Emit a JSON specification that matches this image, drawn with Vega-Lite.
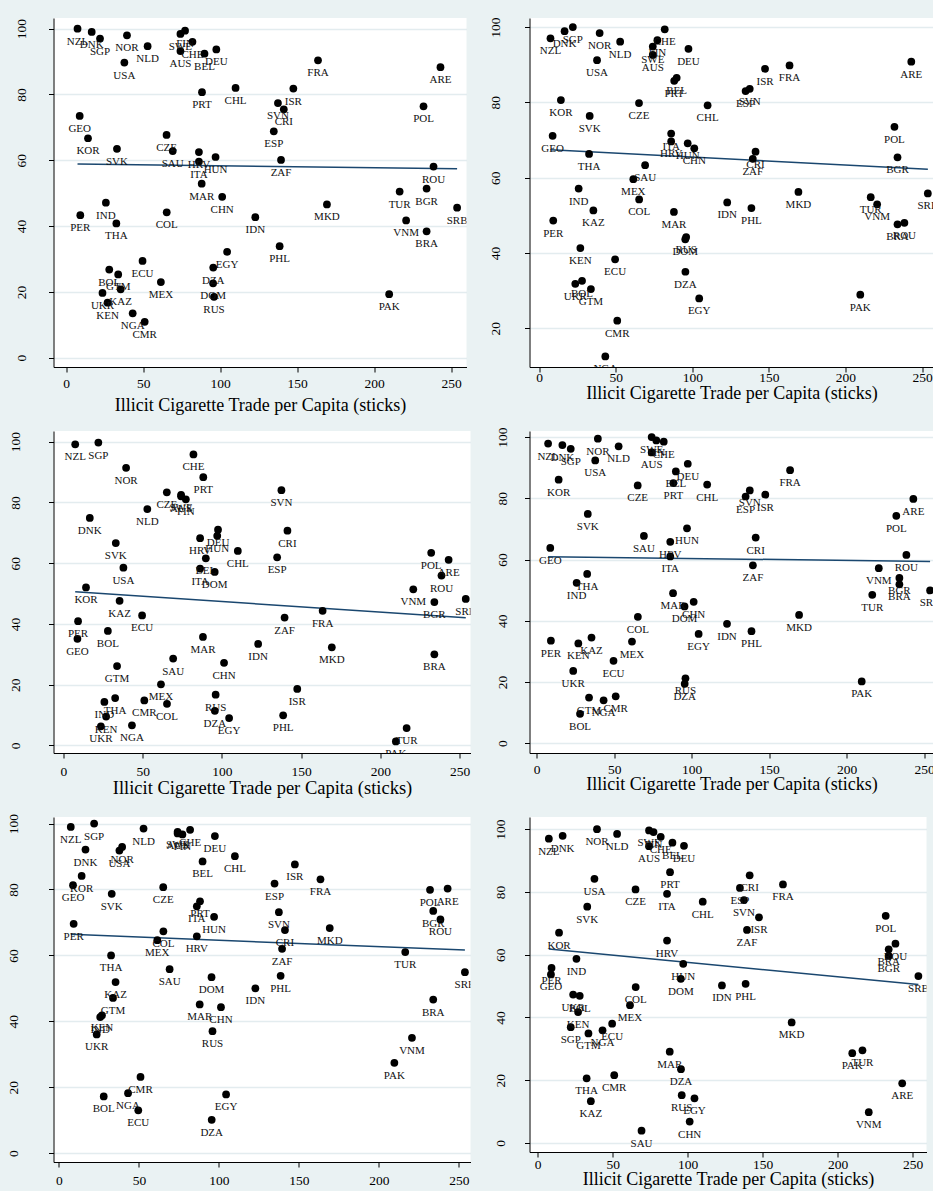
{
"$schema": "https://vega.github.io/schema/vega-lite/v6.json",
"background": "#EAF2F3",
"padding": {"left": 6.5, "top": 16, "right": 0, "bottom": 0},
"config": {
  "view": {"stroke": null, "fill": "white"},
  "font": "Liberation Serif",
  "axis": {"labelFont": "Liberation Serif", "titleFont": "Liberation Serif", "labelColor": "#000", "titleColor": "#000", "domainColor": "#000", "tickColor": "#000", "titleFontWeight": "normal", "labelFontSize": 13.5, "titleFontSize": 18, "tickSize": 5, "domainWidth": 1, "tickWidth": 1},
  "axisX": {"grid": false, "labelFlush": false, "labelOverlap": false},
  "axisY": {"grid": true, "gridColor": "#E3ECEF", "gridWidth": 1.5, "labelAngle": -90, "labelAlign": "center", "labelBaseline": "bottom", "labelFlush": false, "labelOverlap": false}
},
"datasets": {
"fit": [{"p":1,"x":7.4,"y":58.9},{"p":1,"x":253.8,"y":57.4},{"p":2,"x":7.4,"y":67.4},{"p":2,"x":253.8,"y":62.2},{"p":3,"x":7.4,"y":50.6},{"p":3,"x":253.8,"y":42.0},{"p":4,"x":7.4,"y":60.9},{"p":4,"x":253.8,"y":59.4},{"p":5,"x":7.4,"y":66.4},{"p":5,"x":253.8,"y":61.6},{"p":6,"x":7.4,"y":61.8},{"p":6,"x":253.8,"y":50.5}],
"pts": [
{"p":1,"c":"NZL","x":7.4,"y":100},{"p":1,"c":"DNK","x":16.6,"y":99},{"p":1,"c":"SGP","x":22,"y":97},{"p":1,"c":"NOR","x":39.5,"y":98},{"p":1,"c":"NLD","x":52.9,"y":94.7},{"p":1,"c":"USA","x":37.8,"y":89.7},{"p":1,"c":"SWE","x":74.2,"y":98.4},{"p":1,"c":"FIN","x":77.2,"y":99.4},{"p":1,"c":"CHE","x":82,"y":96},{"p":1,"c":"AUS","x":74.2,"y":93.2},{"p":1,"c":"BEL","x":89.8,"y":92.4},{"p":1,"c":"DEU","x":97.5,"y":93.7},{"p":1,"c":"PRT","x":88.2,"y":80.7},{"p":1,"c":"CHL","x":110,"y":82},{"p":1,"c":"GEO","x":8.8,"y":73.5},{"p":1,"c":"KOR","x":14.2,"y":66.7},{"p":1,"c":"CZE","x":65.2,"y":67.7},{"p":1,"c":"SVK","x":33,"y":63.5},{"p":1,"c":"SAU","x":69.2,"y":62.8},{"p":1,"c":"HRV","x":86.2,"y":62.5},{"p":1,"c":"ITA","x":86.2,"y":59.6},{"p":1,"c":"HUN","x":97,"y":61},{"p":1,"c":"MAR","x":88,"y":52.9},{"p":1,"c":"CHN","x":101.3,"y":48.9},{"p":1,"c":"IND","x":25.8,"y":47.1},{"p":1,"c":"PER","x":9.2,"y":43.3},{"p":1,"c":"THA","x":32.6,"y":40.8},{"p":1,"c":"COL","x":65.3,"y":44.2},{"p":1,"c":"EGY","x":104.5,"y":32.2},{"p":1,"c":"ECU","x":49.6,"y":29.4},{"p":1,"c":"DZA","x":95.5,"y":27.4},{"p":1,"c":"BOL","x":28,"y":26.8},{"p":1,"c":"GTM","x":33.8,"y":25.3},{"p":1,"c":"KAZ","x":35.4,"y":20.8},{"p":1,"c":"UKR","x":23.6,"y":19.7},{"p":1,"c":"KEN","x":26.9,"y":16.7},{"p":1,"c":"MEX","x":61.5,"y":23},{"p":1,"c":"DOM","x":95.4,"y":22.6},{"p":1,"c":"RUS","x":96,"y":18.5},{"p":1,"c":"NGA","x":43.2,"y":13.5},{"p":1,"c":"CMR","x":51,"y":10.9},{"p":1,"c":"FRA","x":163.5,"y":90.4},{"p":1,"c":"ARE","x":243,"y":88.3},{"p":1,"c":"ISR","x":147.5,"y":81.8},{"p":1,"c":"SVN","x":137.5,"y":77.4},{"p":1,"c":"CRI","x":141.3,"y":75.5},{"p":1,"c":"POL","x":232,"y":76.4},{"p":1,"c":"ESP","x":134.8,"y":68.8},{"p":1,"c":"ZAF","x":139.5,"y":60.1},{"p":1,"c":"ROU","x":238.5,"y":58.1},{"p":1,"c":"TUR","x":216.5,"y":50.5},{"p":1,"c":"BGR","x":234,"y":51.4},{"p":1,"c":"MKD","x":169.3,"y":46.6},{"p":1,"c":"SRB","x":253.8,"y":45.6},{"p":1,"c":"IDN","x":122.8,"y":42.7},{"p":1,"c":"VNM","x":220.7,"y":41.7},{"p":1,"c":"BRA","x":234,"y":38.4},{"p":1,"c":"PHL","x":138.6,"y":33.9},{"p":1,"c":"PAK","x":209.7,"y":19.3},
{"p":2,"c":"NZL","x":7.4,"y":97},{"p":2,"c":"DNK","x":16.6,"y":98.9},{"p":2,"c":"SGP","x":22,"y":100},{"p":2,"c":"NOR","x":39.5,"y":98.4},{"p":2,"c":"NLD","x":52.9,"y":96.1},{"p":2,"c":"USA","x":37.8,"y":91.2},{"p":2,"c":"SWE","x":74.2,"y":94.8},{"p":2,"c":"FIN","x":77.2,"y":96.5},{"p":2,"c":"CHE","x":82,"y":99.4},{"p":2,"c":"AUS","x":74.2,"y":92.6},{"p":2,"c":"BEL","x":89.8,"y":86.5},{"p":2,"c":"DEU","x":97.5,"y":94.2},{"p":2,"c":"PRT","x":88.2,"y":85.7},{"p":2,"c":"CHL","x":110,"y":79.2},{"p":2,"c":"GEO","x":8.8,"y":71.1},{"p":2,"c":"KOR","x":14.2,"y":80.6},{"p":2,"c":"CZE","x":65.2,"y":79.8},{"p":2,"c":"SVK","x":33,"y":76.4},{"p":2,"c":"SAU","x":69.2,"y":63.3},{"p":2,"c":"HRV","x":86.2,"y":69.6},{"p":2,"c":"ITA","x":86.2,"y":71.7},{"p":2,"c":"HUN","x":97,"y":69.1},{"p":2,"c":"MAR","x":88,"y":50.9},{"p":2,"c":"CHN","x":101.3,"y":67.8},{"p":2,"c":"IND","x":25.8,"y":57.1},{"p":2,"c":"PER","x":9.2,"y":48.6},{"p":2,"c":"THA","x":32.6,"y":66.3},{"p":2,"c":"COL","x":65.3,"y":54.2},{"p":2,"c":"EGY","x":104.5,"y":27.9},{"p":2,"c":"ECU","x":49.6,"y":38.3},{"p":2,"c":"DZA","x":95.5,"y":35},{"p":2,"c":"BOL","x":28,"y":32.6},{"p":2,"c":"GTM","x":33.8,"y":30.4},{"p":2,"c":"KAZ","x":35.4,"y":51.3},{"p":2,"c":"UKR","x":23.6,"y":31.8},{"p":2,"c":"KEN","x":26.9,"y":41.3},{"p":2,"c":"MEX","x":61.5,"y":59.6},{"p":2,"c":"DOM","x":95.4,"y":43.6},{"p":2,"c":"RUS","x":96,"y":44.2},{"p":2,"c":"NGA","x":43.2,"y":12.5},{"p":2,"c":"CMR","x":51,"y":22},{"p":2,"c":"FRA","x":163.5,"y":89.8},{"p":2,"c":"ARE","x":243,"y":90.8},{"p":2,"c":"ISR","x":147.5,"y":88.9},{"p":2,"c":"SVN","x":137.5,"y":83.6},{"p":2,"c":"CRI","x":141.3,"y":66.9},{"p":2,"c":"POL","x":232,"y":73.5},{"p":2,"c":"ESP","x":134.8,"y":83},{"p":2,"c":"ZAF","x":139.5,"y":65},{"p":2,"c":"ROU","x":238.5,"y":48},{"p":2,"c":"TUR","x":216.5,"y":54.8},{"p":2,"c":"BGR","x":234,"y":65.4},{"p":2,"c":"MKD","x":169.3,"y":56.2},{"p":2,"c":"SRB","x":253.8,"y":55.8},{"p":2,"c":"IDN","x":122.8,"y":53.4},{"p":2,"c":"VNM","x":220.7,"y":52.9},{"p":2,"c":"BRA","x":234,"y":47.6},{"p":2,"c":"PHL","x":138.6,"y":51.9},{"p":2,"c":"PAK","x":209.7,"y":28.9},
{"p":3,"c":"NZL","x":7.4,"y":99.1},{"p":3,"c":"DNK","x":16.6,"y":74.9},{"p":3,"c":"SGP","x":22,"y":99.7},{"p":3,"c":"NOR","x":39.5,"y":91.4},{"p":3,"c":"NLD","x":52.9,"y":77.8},{"p":3,"c":"USA","x":37.8,"y":58.5},{"p":3,"c":"SWE","x":74.2,"y":82.5},{"p":3,"c":"FIN","x":77.2,"y":81},{"p":3,"c":"CHE","x":82,"y":95.8},{"p":3,"c":"AUS","x":74.2,"y":82},{"p":3,"c":"BEL","x":89.8,"y":61.6},{"p":3,"c":"DEU","x":97.5,"y":71},{"p":3,"c":"PRT","x":88.2,"y":88.3},{"p":3,"c":"CHL","x":110,"y":64},{"p":3,"c":"GEO","x":8.8,"y":35.1},{"p":3,"c":"KOR","x":14.2,"y":52},{"p":3,"c":"CZE","x":65.2,"y":83.3},{"p":3,"c":"SVK","x":33,"y":66.6},{"p":3,"c":"SAU","x":69.2,"y":28.6},{"p":3,"c":"HRV","x":86.2,"y":68.2},{"p":3,"c":"ITA","x":86.2,"y":58.2},{"p":3,"c":"HUN","x":97,"y":69},{"p":3,"c":"MAR","x":88,"y":35.7},{"p":3,"c":"CHN","x":101.3,"y":27.2},{"p":3,"c":"IND","x":25.8,"y":14.3},{"p":3,"c":"PER","x":9.2,"y":40.9},{"p":3,"c":"THA","x":32.6,"y":15.6},{"p":3,"c":"COL","x":65.3,"y":13.7},{"p":3,"c":"EGY","x":104.5,"y":9},{"p":3,"c":"ECU","x":49.6,"y":42.8},{"p":3,"c":"DZA","x":95.5,"y":11.4},{"p":3,"c":"BOL","x":28,"y":37.7},{"p":3,"c":"GTM","x":33.8,"y":26.1},{"p":3,"c":"KAZ","x":35.4,"y":47.6},{"p":3,"c":"UKR","x":23.6,"y":6.3},{"p":3,"c":"KEN","x":26.9,"y":9.5},{"p":3,"c":"MEX","x":61.5,"y":20.1},{"p":3,"c":"DOM","x":95.4,"y":57.1},{"p":3,"c":"RUS","x":96,"y":16.7},{"p":3,"c":"NGA","x":43.2,"y":6.6},{"p":3,"c":"CMR","x":51,"y":14.8},{"p":3,"c":"FRA","x":163.5,"y":44.3},{"p":3,"c":"ARE","x":243,"y":61.1},{"p":3,"c":"ISR","x":147.5,"y":18.6},{"p":3,"c":"SVN","x":137.5,"y":84},{"p":3,"c":"CRI","x":141.3,"y":70.7},{"p":3,"c":"POL","x":232,"y":63.4},{"p":3,"c":"ESP","x":134.8,"y":61.9},{"p":3,"c":"ZAF","x":139.5,"y":42.1},{"p":3,"c":"ROU","x":238.5,"y":55.9},{"p":3,"c":"TUR","x":216.5,"y":5.7},{"p":3,"c":"BGR","x":234,"y":47.2},{"p":3,"c":"MKD","x":169.3,"y":32.3},{"p":3,"c":"SRB","x":253.8,"y":48.2},{"p":3,"c":"IDN","x":122.8,"y":33.4},{"p":3,"c":"VNM","x":220.7,"y":51.4},{"p":3,"c":"BRA","x":234,"y":30},{"p":3,"c":"PHL","x":138.6,"y":9.9},{"p":3,"c":"PAK","x":209.7,"y":1.3},
{"p":4,"c":"NZL","x":7.4,"y":97.9},{"p":4,"c":"DNK","x":16.6,"y":97.4},{"p":4,"c":"SGP","x":22,"y":96.2},{"p":4,"c":"NOR","x":39.5,"y":99.5},{"p":4,"c":"NLD","x":52.9,"y":97},{"p":4,"c":"USA","x":37.8,"y":92.4},{"p":4,"c":"SWE","x":74.2,"y":100},{"p":4,"c":"FIN","x":77.2,"y":98.9},{"p":4,"c":"CHE","x":82,"y":98.5},{"p":4,"c":"AUS","x":74.2,"y":95},{"p":4,"c":"BEL","x":89.8,"y":88.8},{"p":4,"c":"DEU","x":97.5,"y":91.3},{"p":4,"c":"PRT","x":88.2,"y":85},{"p":4,"c":"CHL","x":110,"y":84.5},{"p":4,"c":"GEO","x":8.8,"y":63.8},{"p":4,"c":"KOR","x":14.2,"y":86.1},{"p":4,"c":"CZE","x":65.2,"y":84.2},{"p":4,"c":"SVK","x":33,"y":74.9},{"p":4,"c":"SAU","x":69.2,"y":67.7},{"p":4,"c":"HRV","x":86.2,"y":65.8},{"p":4,"c":"ITA","x":86.2,"y":61},{"p":4,"c":"HUN","x":97,"y":70.2},{"p":4,"c":"MAR","x":88,"y":49},{"p":4,"c":"CHN","x":101.3,"y":46.2},{"p":4,"c":"IND","x":25.8,"y":52.4},{"p":4,"c":"PER","x":9.2,"y":33.5},{"p":4,"c":"THA","x":32.6,"y":55.3},{"p":4,"c":"COL","x":65.3,"y":41.3},{"p":4,"c":"EGY","x":104.5,"y":35.7},{"p":4,"c":"ECU","x":49.6,"y":26.9},{"p":4,"c":"DZA","x":95.5,"y":19.4},{"p":4,"c":"BOL","x":28,"y":9.6},{"p":4,"c":"GTM","x":33.8,"y":14.9},{"p":4,"c":"KAZ","x":35.4,"y":34.5},{"p":4,"c":"UKR","x":23.6,"y":23.6},{"p":4,"c":"KEN","x":26.9,"y":32.6},{"p":4,"c":"MEX","x":61.5,"y":33.2},{"p":4,"c":"DOM","x":95.4,"y":44.7},{"p":4,"c":"RUS","x":96,"y":21.2},{"p":4,"c":"NGA","x":43.2,"y":14},{"p":4,"c":"CMR","x":51,"y":15.3},{"p":4,"c":"FRA","x":163.5,"y":89.2},{"p":4,"c":"ARE","x":243,"y":79.8},{"p":4,"c":"ISR","x":147.5,"y":81.2},{"p":4,"c":"SVN","x":137.5,"y":82.6},{"p":4,"c":"CRI","x":141.3,"y":67.2},{"p":4,"c":"POL","x":232,"y":74.3},{"p":4,"c":"ESP","x":134.8,"y":80.6},{"p":4,"c":"ZAF","x":139.5,"y":58.1},{"p":4,"c":"ROU","x":238.5,"y":61.5},{"p":4,"c":"TUR","x":216.5,"y":48.5},{"p":4,"c":"BGR","x":234,"y":54},{"p":4,"c":"MKD","x":169.3,"y":41.9},{"p":4,"c":"SRB","x":253.8,"y":49.9},{"p":4,"c":"IDN","x":122.8,"y":39},{"p":4,"c":"VNM","x":220.7,"y":57.2},{"p":4,"c":"BRA","x":234,"y":51.9},{"p":4,"c":"PHL","x":138.6,"y":36.6},{"p":4,"c":"PAK","x":209.7,"y":20.2},
{"p":5,"c":"NZL","x":7.4,"y":99},{"p":5,"c":"DNK","x":16.6,"y":92.1},{"p":5,"c":"SGP","x":22,"y":100},{"p":5,"c":"NOR","x":39.5,"y":92.9},{"p":5,"c":"NLD","x":52.9,"y":98.5},{"p":5,"c":"USA","x":37.8,"y":91.8},{"p":5,"c":"SWE","x":74.2,"y":97.5},{"p":5,"c":"FIN","x":77.2,"y":96.7},{"p":5,"c":"CHE","x":82,"y":98.1},{"p":5,"c":"AUS","x":74.2,"y":97},{"p":5,"c":"BEL","x":89.8,"y":88.5},{"p":5,"c":"DEU","x":97.5,"y":96.2},{"p":5,"c":"PRT","x":88.2,"y":76.4},{"p":5,"c":"CHL","x":110,"y":90.1},{"p":5,"c":"GEO","x":8.8,"y":81.3},{"p":5,"c":"KOR","x":14.2,"y":84.1},{"p":5,"c":"CZE","x":65.2,"y":80.7},{"p":5,"c":"SVK","x":33,"y":78.7},{"p":5,"c":"SAU","x":69.2,"y":55.8},{"p":5,"c":"HRV","x":86.2,"y":65.8},{"p":5,"c":"ITA","x":86.2,"y":74.9},{"p":5,"c":"HUN","x":97,"y":71.7},{"p":5,"c":"MAR","x":88,"y":45.1},{"p":5,"c":"CHN","x":101.3,"y":44.3},{"p":5,"c":"IND","x":25.8,"y":41.3},{"p":5,"c":"PER","x":9.2,"y":69.6},{"p":5,"c":"THA","x":32.6,"y":60},{"p":5,"c":"COL","x":65.3,"y":67.3},{"p":5,"c":"EGY","x":104.5,"y":17.8},{"p":5,"c":"ECU","x":49.6,"y":13},{"p":5,"c":"DZA","x":95.5,"y":10.1},{"p":5,"c":"BOL","x":28,"y":17.2},{"p":5,"c":"GTM","x":33.8,"y":47.1},{"p":5,"c":"KAZ","x":35.4,"y":51.9},{"p":5,"c":"UKR","x":23.6,"y":36},{"p":5,"c":"KEN","x":26.9,"y":41.8},{"p":5,"c":"MEX","x":61.5,"y":64.6},{"p":5,"c":"DOM","x":95.4,"y":53.4},{"p":5,"c":"RUS","x":96,"y":37},{"p":5,"c":"NGA","x":43.2,"y":18.2},{"p":5,"c":"CMR","x":51,"y":23.1},{"p":5,"c":"FRA","x":163.5,"y":83.1},{"p":5,"c":"ARE","x":243,"y":80.3},{"p":5,"c":"ISR","x":147.5,"y":87.6},{"p":5,"c":"SVN","x":137.5,"y":73.1},{"p":5,"c":"CRI","x":141.3,"y":67.7},{"p":5,"c":"POL","x":232,"y":79.9},{"p":5,"c":"ESP","x":134.8,"y":81.8},{"p":5,"c":"ZAF","x":139.5,"y":62},{"p":5,"c":"ROU","x":238.5,"y":70.9},{"p":5,"c":"TUR","x":216.5,"y":61},{"p":5,"c":"BGR","x":234,"y":73.5},{"p":5,"c":"MKD","x":169.3,"y":68.3},{"p":5,"c":"SRB","x":253.8,"y":54.9},{"p":5,"c":"IDN","x":122.8,"y":50},{"p":5,"c":"VNM","x":220.7,"y":35},{"p":5,"c":"BRA","x":234,"y":46.6},{"p":5,"c":"PHL","x":138.6,"y":53.8},{"p":5,"c":"PAK","x":209.7,"y":27.4},
{"p":6,"c":"NZL","x":7.4,"y":97},{"p":6,"c":"DNK","x":16.6,"y":97.9},{"p":6,"c":"SGP","x":22,"y":36.9},{"p":6,"c":"NOR","x":39.5,"y":100},{"p":6,"c":"NLD","x":52.9,"y":98.5},{"p":6,"c":"USA","x":37.8,"y":84.2},{"p":6,"c":"SWE","x":74.2,"y":99.6},{"p":6,"c":"FIN","x":77.2,"y":99.1},{"p":6,"c":"CHE","x":82,"y":97.6},{"p":6,"c":"AUS","x":74.2,"y":94.6},{"p":6,"c":"BEL","x":89.8,"y":95.7},{"p":6,"c":"DEU","x":97.5,"y":94.7},{"p":6,"c":"PRT","x":88.2,"y":86.3},{"p":6,"c":"CHL","x":110,"y":76.9},{"p":6,"c":"GEO","x":8.8,"y":53.7},{"p":6,"c":"KOR","x":14.2,"y":67},{"p":6,"c":"CZE","x":65.2,"y":80.8},{"p":6,"c":"SVK","x":33,"y":75.3},{"p":6,"c":"SAU","x":69.2,"y":3.9},{"p":6,"c":"HRV","x":86.2,"y":64.5},{"p":6,"c":"ITA","x":86.2,"y":79.4},{"p":6,"c":"HUN","x":97,"y":57.1},{"p":6,"c":"MAR","x":88,"y":29.1},{"p":6,"c":"CHN","x":101.3,"y":6.8},{"p":6,"c":"IND","x":25.8,"y":58.7},{"p":6,"c":"PER","x":9.2,"y":55.8},{"p":6,"c":"THA","x":32.6,"y":20.6},{"p":6,"c":"COL","x":65.3,"y":49.7},{"p":6,"c":"EGY","x":104.5,"y":14.2},{"p":6,"c":"ECU","x":49.6,"y":38},{"p":6,"c":"DZA","x":95.5,"y":23.5},{"p":6,"c":"BOL","x":28,"y":46.9},{"p":6,"c":"GTM","x":33.8,"y":34.9},{"p":6,"c":"KAZ","x":35.4,"y":13.3},{"p":6,"c":"UKR","x":23.6,"y":47.3},{"p":6,"c":"KEN","x":26.9,"y":41.7},{"p":6,"c":"MEX","x":61.5,"y":43.9},{"p":6,"c":"DOM","x":95.4,"y":52.3},{"p":6,"c":"RUS","x":96,"y":15.2},{"p":6,"c":"NGA","x":43.2,"y":35.9},{"p":6,"c":"CMR","x":51,"y":21.6},{"p":6,"c":"FRA","x":163.5,"y":82.4},{"p":6,"c":"ARE","x":243,"y":19},{"p":6,"c":"ISR","x":147.5,"y":71.9},{"p":6,"c":"SVN","x":137.5,"y":77.4},{"p":6,"c":"CRI","x":141.3,"y":85.3},{"p":6,"c":"POL","x":232,"y":72.4},{"p":6,"c":"ESP","x":134.8,"y":81.3},{"p":6,"c":"ZAF","x":139.5,"y":67.9},{"p":6,"c":"ROU","x":238.5,"y":63.5},{"p":6,"c":"TUR","x":216.5,"y":29.5},{"p":6,"c":"BGR","x":234,"y":59.6},{"p":6,"c":"MKD","x":169.3,"y":38.4},{"p":6,"c":"SRB","x":253.8,"y":53.2},{"p":6,"c":"IDN","x":122.8,"y":50.2},{"p":6,"c":"VNM","x":220.7,"y":9.8},{"p":6,"c":"BRA","x":234,"y":61.7},{"p":6,"c":"PHL","x":138.6,"y":50.7},{"p":6,"c":"PAK","x":209.7,"y":28.6}
]
},
"columns": 2,
"align": "each",
"bounds": "flush",
"spacing": {"row": 64, "column": 59},
"concat": [
{
 "width": 413, "height": 349,
 "encoding": {
  "x": {"field": "x", "type": "quantitative", "scale": {"domain": [-8.2, 259.9], "nice": false, "zero": false}, "axis": {"title": "Illicit Cigarette Trade per Capita (sticks)", "values": [0,50,100,150,200,250], "labelPadding": 4, "titlePadding": 7}},
  "y": {"field": "y", "type": "quantitative", "scale": {"domain": [-2.83, 103.25], "nice": false, "zero": false}, "axis": {"title": null, "values": [0,20,40,60,80,100], "labelPadding": 20}}
 },
 "layer": [
  {"data": {"name": "fit"}, "transform": [{"filter": "datum.p == 1"}], "mark": {"type": "line", "color": "#1a476f", "strokeWidth": 1.5}, "encoding": {}},
  {"data": {"name": "pts"}, "transform": [{"filter": "datum.p == 1"}], "mark": {"type": "circle", "size": 60, "color": "#000", "opacity": 1}},
  {"data": {"name": "pts"}, "transform": [{"filter": "datum.p == 1"}], "mark": {"type": "text", "font": "Liberation Serif", "fontSize": 11, "dy": 13, "baseline": "middle", "clip": true, "color": "#111"}, "encoding": {"text": {"field": "c"}}}
 ]
},
{
 "width": 404, "height": 349,
 "encoding": {
  "x": {"field": "x", "type": "quantitative", "scale": {"domain": [-6.3, 257.5], "nice": false, "zero": false}, "axis": {"title": "Illicit Cigarette Trade per Capita (sticks)", "values": [0,50,100,150,200,250], "labelPadding": -2, "titlePadding": 1}},
  "y": {"field": "y", "type": "quantitative", "scale": {"domain": [9.7, 102.4], "nice": false, "zero": false}, "axis": {"title": null, "values": [20,40,60,80,100], "labelPadding": 22}}
 },
 "layer": [
  {"data": {"name": "fit"}, "transform": [{"filter": "datum.p == 2"}], "mark": {"type": "line", "color": "#1a476f", "strokeWidth": 1.5}, "encoding": {}},
  {"data": {"name": "pts"}, "transform": [{"filter": "datum.p == 2"}], "mark": {"type": "circle", "size": 60, "color": "#000", "opacity": 1}},
  {"data": {"name": "pts"}, "transform": [{"filter": "datum.p == 2"}], "mark": {"type": "text", "font": "Liberation Serif", "fontSize": 11, "dy": 13, "baseline": "middle", "clip": true, "color": "#111"}, "encoding": {"text": {"field": "c"}}}
 ]
},
{
 "width": 417, "height": 322,
 "encoding": {
  "x": {"field": "x", "type": "quantitative", "scale": {"domain": [-6.3, 256.8], "nice": false, "zero": false}, "axis": {"title": "Illicit Cigarette Trade per Capita (sticks)", "values": [0,50,100,150,200,250], "labelPadding": 6, "titlePadding": 0.5, "titleFontSize": 18.5}},
  "y": {"field": "y", "type": "quantitative", "scale": {"domain": [-2.5, 103.5], "nice": false, "zero": false}, "axis": {"title": null, "values": [0,20,40,60,80,100], "labelPadding": 26}}
 },
 "layer": [
  {"data": {"name": "fit"}, "transform": [{"filter": "datum.p == 3"}], "mark": {"type": "line", "color": "#1a476f", "strokeWidth": 1.5}, "encoding": {}},
  {"data": {"name": "pts"}, "transform": [{"filter": "datum.p == 3"}], "mark": {"type": "circle", "size": 60, "color": "#000", "opacity": 1}},
  {"data": {"name": "pts"}, "transform": [{"filter": "datum.p == 3"}], "mark": {"type": "text", "font": "Liberation Serif", "fontSize": 11, "dy": 13, "baseline": "middle", "clip": true, "color": "#111"}, "encoding": {"text": {"field": "c"}}}
 ]
},
{
 "width": 404, "height": 322,
 "encoding": {
  "x": {"field": "x", "type": "quantitative", "scale": {"domain": [-4.6, 256], "nice": false, "zero": false}, "axis": {"title": "Illicit Cigarette Trade per Capita (sticks)", "values": [0,50,100,150,200,250], "labelPadding": 4, "titlePadding": 0}},
  "y": {"field": "y", "type": "quantitative", "scale": {"domain": [-3.2, 102], "nice": false, "zero": false}, "axis": {"title": null, "values": [0,20,40,60,80,100], "labelPadding": 15.5}}
 },
 "layer": [
  {"data": {"name": "fit"}, "transform": [{"filter": "datum.p == 4"}], "mark": {"type": "line", "color": "#1a476f", "strokeWidth": 1.5}, "encoding": {}},
  {"data": {"name": "pts"}, "transform": [{"filter": "datum.p == 4"}], "mark": {"type": "circle", "size": 60, "color": "#000", "opacity": 1}},
  {"data": {"name": "pts"}, "transform": [{"filter": "datum.p == 4"}], "mark": {"type": "text", "font": "Liberation Serif", "fontSize": 11, "dy": 13, "baseline": "middle", "clip": true, "color": "#111"}, "encoding": {"text": {"field": "c"}}}
 ]
},
{
 "width": 417, "height": 345,
 "encoding": {
  "x": {"field": "x", "type": "quantitative", "scale": {"domain": [-3.4, 257.3], "nice": false, "zero": false}, "axis": {"title": "Illicit Cigarette Trade per Capita (sticks)", "values": [0,50,100,150,200,250], "labelPadding": 6.5, "titlePadding": 2, "titleFontSize": 16}},
  "y": {"field": "y", "type": "quantitative", "scale": {"domain": [-2.7, 102], "nice": false, "zero": false}, "axis": {"title": null, "values": [0,20,40,60,80,100], "labelPadding": 28}}
 },
 "layer": [
  {"data": {"name": "fit"}, "transform": [{"filter": "datum.p == 5"}], "mark": {"type": "line", "color": "#1a476f", "strokeWidth": 1.5}, "encoding": {}},
  {"data": {"name": "pts"}, "transform": [{"filter": "datum.p == 5"}], "mark": {"type": "circle", "size": 60, "color": "#000", "opacity": 1}},
  {"data": {"name": "pts"}, "transform": [{"filter": "datum.p == 5"}], "mark": {"type": "text", "font": "Liberation Serif", "fontSize": 11, "dy": 13, "baseline": "middle", "clip": true, "color": "#111"}, "encoding": {"text": {"field": "c"}}}
 ]
},
{
 "width": 397, "height": 335,
 "encoding": {
  "x": {"field": "x", "type": "quantitative", "scale": {"domain": [-5.5, 259.2], "nice": false, "zero": false}, "axis": {"title": "Illicit Cigarette Trade per Capita (sticks)", "values": [0,50,100,150,200,250], "labelPadding": 0, "titlePadding": 0}},
  "y": {"field": "y", "type": "quantitative", "scale": {"domain": [-2.9, 103.9], "nice": false, "zero": false}, "axis": {"title": null, "values": [0,20,40,60,80,100], "labelPadding": 17}}
 },
 "layer": [
  {"data": {"name": "fit"}, "transform": [{"filter": "datum.p == 6"}], "mark": {"type": "line", "color": "#1a476f", "strokeWidth": 1.5}, "encoding": {}},
  {"data": {"name": "pts"}, "transform": [{"filter": "datum.p == 6"}], "mark": {"type": "circle", "size": 60, "color": "#000", "opacity": 1}},
  {"data": {"name": "pts"}, "transform": [{"filter": "datum.p == 6"}], "mark": {"type": "text", "font": "Liberation Serif", "fontSize": 11, "dy": 13, "baseline": "middle", "clip": true, "color": "#111"}, "encoding": {"text": {"field": "c"}}}
 ]
}
]
}
